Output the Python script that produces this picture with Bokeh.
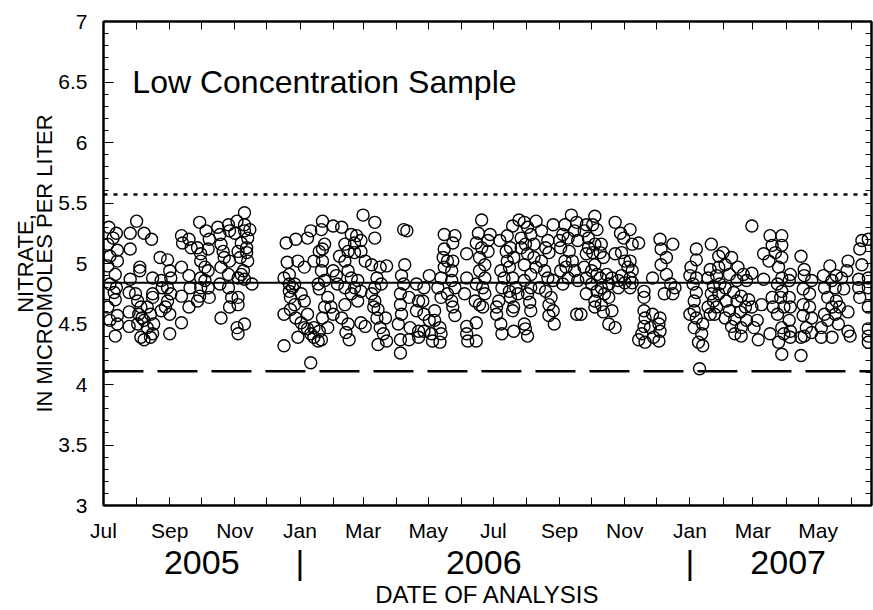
import datetime as dt
from bokeh.plotting import figure
from bokeh.models import FixedTicker, LinearAxis, Span, Label, Range1d
from bokeh.embed import file_html
from bokeh.resources import INLINE

FONT = "Liberation Sans"
START = dt.date(2005, 7, 1)

# ---- data: (days after 2005-07-01, nitrate in micromoles per liter) ----
jul_nov_2005 = [
    (5, 5.30), (12, 5.25), (9, 5.21), (4, 5.16), (13, 5.11), (6, 5.06), (13, 5.02), (4, 4.98), (11, 4.91),
    (6, 4.83), (12, 4.80), (10, 4.76), (11, 4.70), (4, 4.64), (13, 4.57), (6, 4.53), (13, 4.50), (11, 4.40),
    (25, 5.25), (25, 5.12), (31, 5.35), (38, 5.25), (45, 5.20), (25, 4.87), (24, 4.76), (24, 4.60), (24, 4.48),
    (34, 4.97), (34, 4.94), (30, 4.75), (32, 4.69), (35, 4.64), (33, 4.58), (36, 4.55), (32, 4.50), (38, 4.53),
    (35, 4.39), (38, 4.37), (44, 4.39), (46, 4.42), (41, 4.64), (46, 4.72), (46, 4.75), (47, 4.50), (46, 4.88),
    (44, 4.58), (41, 4.47),
    (53, 5.05), (54, 4.86), (55, 4.80), (60, 5.03), (60, 4.80), (62, 4.94), (63, 4.88), (60, 4.69), (62, 4.58),
    (58, 4.64), (54, 4.61), (62, 4.42), (63, 4.75), (73, 4.51), (73, 4.97), (73, 4.73), (80, 4.64), (80, 4.90),
    (81, 4.80),
    (73, 5.23), (74, 5.17), (80, 5.20), (82, 5.13), (88, 5.13), (90, 5.34), (96, 5.27), (99, 5.20), (98, 5.12),
    (91, 5.08), (91, 5.02), (95, 4.97), (98, 4.94), (91, 4.80), (90, 4.73), (88, 4.69), (95, 4.86), (99, 4.72),
    (98, 4.80), (91, 4.88),
    (107, 5.30), (109, 5.24), (110, 5.16), (112, 5.10), (117, 5.32), (118, 5.27), (113, 5.05), (118, 5.02),
    (110, 4.97), (117, 4.91), (109, 4.83), (117, 4.80), (120, 4.72), (118, 4.64), (110, 4.55), (126, 4.66),
    (126, 4.72), (125, 4.47), (126, 4.42), (132, 4.50), (125, 5.35), (132, 5.42), (132, 5.32), (132, 5.27),
    (135, 5.21), (134, 5.13), (135, 5.02), (131, 4.94), (126, 4.88), (132, 4.87), (139, 4.83), (137, 5.28),
    (129, 5.17), (134, 5.09), (126, 5.10), (128, 5.05), (123, 5.25), (129, 4.91),
]

dec2005_apr2006 = [
    (171, 5.17), (180, 5.20), (169, 4.88), (172, 5.01), (182, 5.02), (174, 4.91), (169, 4.58), (169, 4.32),
    (174, 4.77), (175, 4.72), (177, 4.80), (179, 4.66), (180, 4.55), (182, 4.39), (174, 4.83), (179, 4.83),
    (175, 4.62),
    (188, 4.97), (191, 5.21), (194, 5.27), (197, 5.02), (205, 5.35), (204, 5.28), (207, 5.16), (205, 5.12),
    (202, 5.10), (205, 5.02), (204, 4.94), (207, 4.86), (201, 4.83), (202, 4.79), (207, 4.64), (210, 4.72),
    (213, 4.64), (215, 4.58), (205, 4.55), (185, 4.75), (188, 4.69), (191, 4.58), (185, 4.51), (188, 4.47),
    (194, 4.42), (197, 4.39), (201, 4.36), (204, 4.37), (202, 4.44), (197, 4.47), (191, 4.46), (194, 4.18),
    (210, 4.47), (215, 4.94), (215, 5.31), (223, 5.30),
    (221, 5.06), (226, 5.16), (232, 5.24), (237, 5.23), (235, 5.17), (229, 5.10), (235, 5.09), (241, 5.19),
    (243, 5.40), (254, 5.34), (254, 5.21), (241, 5.10), (245, 5.02), (226, 5.02), (229, 4.94), (232, 4.88),
    (226, 4.80), (238, 4.86), (232, 4.75), (241, 4.77), (238, 4.69), (226, 4.66), (223, 4.55), (229, 4.50),
    (227, 4.43), (230, 4.37), (241, 4.51), (245, 4.48), (235, 4.80), (219, 4.83), (218, 4.90),
    (251, 4.99), (259, 4.97), (265, 4.98), (256, 4.88), (260, 4.83), (251, 4.75), (254, 4.69), (257, 4.62),
    (256, 4.55), (264, 4.55), (259, 4.47), (262, 4.42), (265, 4.36), (257, 4.33), (253, 4.64), (254, 4.80),
    (281, 5.28), (284, 5.27), (282, 4.99), (279, 4.90), (281, 4.83), (278, 4.75), (286, 4.72), (278, 4.66),
    (279, 4.58), (276, 4.50), (278, 4.37), (278, 4.26), (287, 4.47), (286, 4.37), (293, 4.83), (295, 4.69),
    (295, 4.44), (295, 4.39), (293, 4.61),
]

may_sep_2006 = [
    (305, 4.90), (300, 4.80), (299, 4.69), (300, 4.58), (305, 4.53), (300, 4.44), (307, 4.42), (310, 4.61),
    (308, 4.36), (315, 4.35), (315, 4.47), (316, 4.42), (316, 4.72), (313, 4.80), (316, 4.88), (319, 5.24),
    (329, 5.23), (327, 5.17), (319, 5.12), (318, 5.05), (322, 5.02), (327, 5.02), (319, 4.97), (326, 4.94),
    (326, 4.86), (322, 4.75), (329, 4.80), (326, 4.69), (327, 4.64), (329, 4.57), (310, 4.53),
    (340, 5.08), (340, 4.88), (338, 4.75), (340, 4.48), (349, 4.51), (340, 4.42), (341, 4.36), (349, 4.36),
    (354, 5.36), (351, 5.25), (349, 5.17), (354, 5.13), (360, 5.19), (352, 5.05), (357, 4.99), (352, 4.94),
    (357, 4.88), (349, 4.83), (355, 4.80), (348, 4.69), (352, 4.66), (355, 4.64), (357, 4.75), (360, 5.10),
    (362, 5.24),
    (368, 4.64), (368, 4.58), (370, 4.69), (372, 4.50), (373, 4.42), (384, 4.44), (371, 5.19), (378, 5.23),
    (383, 5.31), (389, 5.36), (381, 5.13), (377, 5.10), (378, 5.02), (384, 5.05), (380, 4.97), (372, 4.94),
    (375, 4.88), (383, 4.88), (373, 4.80), (380, 4.77), (386, 4.80), (381, 4.72), (388, 4.75), (384, 4.64),
    (383, 4.61), (391, 5.21), (391, 5.13),
    (394, 5.34), (405, 5.35), (397, 5.30), (400, 5.24), (395, 5.16), (403, 5.16), (397, 5.08), (403, 5.05),
    (394, 4.99), (405, 4.97), (400, 4.91), (394, 4.86), (400, 4.80), (397, 4.75), (399, 4.68), (400, 4.61),
    (394, 4.50), (395, 4.46), (397, 4.40), (410, 5.02), (413, 4.94), (414, 5.13), (416, 5.19), (417, 5.09),
    (416, 4.88), (421, 4.86), (414, 4.77), (419, 4.72), (417, 4.66), (421, 4.61), (417, 4.57), (422, 4.50),
    (421, 5.32), (410, 5.27), (408, 4.80),
    (432, 5.32), (438, 5.40), (443, 5.34), (430, 5.24), (435, 5.21), (441, 5.27), (444, 5.19), (428, 5.13),
    (436, 5.10), (432, 5.02), (439, 5.02), (428, 4.94), (435, 4.88), (441, 4.94), (430, 4.83), (444, 4.86),
    (443, 4.58), (427, 5.19), (433, 4.97),
]

sep2006_jan2007 = [
    (460, 5.39), (458, 5.32), (462, 5.28), (452, 5.32), (450, 5.27), (454, 5.21), (460, 5.16), (466, 5.16),
    (454, 5.13), (458, 5.09), (465, 5.09), (452, 5.08), (468, 5.05), (460, 4.99), (450, 4.97), (457, 4.94),
    (462, 4.91), (452, 4.88), (465, 4.88), (471, 4.91), (476, 4.88), (457, 4.83), (466, 4.80), (473, 4.83),
    (452, 4.75), (462, 4.77), (469, 4.75), (460, 4.69), (466, 4.66), (473, 4.72), (460, 4.64), (468, 4.60),
    (476, 4.61), (447, 4.58), (473, 4.50), (479, 4.47), (479, 5.34),
    (484, 5.25), (487, 5.21), (493, 5.28), (495, 5.16), (501, 5.17), (479, 5.08), (485, 5.09), (488, 5.02),
    (493, 5.02), (491, 4.97), (495, 4.94), (485, 4.90), (493, 4.88), (482, 4.86), (488, 4.84), (495, 4.84),
    (493, 4.80), (482, 4.80),
    (506, 4.77), (506, 4.72), (506, 4.61), (507, 4.55), (506, 4.48), (504, 4.42), (501, 4.37), (507, 4.35),
    (514, 4.58), (515, 4.39), (520, 4.36), (521, 4.55), (520, 4.50), (521, 4.44), (512, 4.47), (514, 4.88),
    (521, 5.20), (522, 5.12), (533, 5.16), (527, 5.05), (522, 4.99), (527, 4.91), (531, 4.83), (525, 4.75),
    (533, 4.75), (535, 4.80),
    (555, 5.12), (555, 5.03), (550, 4.97), (549, 4.90), (555, 4.88), (552, 4.83), (555, 4.76), (553, 4.69),
    (549, 4.58), (553, 4.61), (555, 4.55), (553, 4.47), (561, 4.50), (560, 4.42), (557, 4.35), (561, 4.32),
    (558, 4.13), (569, 5.16), (568, 4.95), (566, 4.88), (571, 4.81), (569, 4.75), (571, 4.69), (566, 4.64),
    (568, 4.58),
    (576, 5.06), (576, 4.97), (574, 4.90), (577, 4.83), (576, 4.75), (572, 4.58), (574, 4.64),
]

jan_jun_2007 = [
    (580, 5.09), (588, 5.05), (582, 4.99), (586, 4.91), (594, 4.97), (599, 4.91), (607, 4.92), (593, 4.86),
    (602, 4.86), (582, 4.80), (590, 4.76), (597, 4.73), (604, 4.70), (583, 4.69), (593, 4.69), (601, 4.64),
    (607, 4.64), (586, 4.61), (596, 4.60), (582, 4.55), (591, 4.54), (602, 4.53), (612, 4.53), (588, 4.48),
    (597, 4.47), (609, 4.47), (591, 4.42), (597, 4.40), (613, 4.37), (607, 5.31), (618, 4.87), (616, 4.66),
    (624, 5.23), (635, 5.23), (626, 5.15), (635, 5.15), (618, 5.08), (629, 5.09), (623, 5.02), (635, 5.05),
    (632, 4.97), (643, 4.91), (635, 4.88), (631, 4.83), (642, 4.86), (635, 4.77), (626, 4.72), (634, 4.72),
    (642, 4.72), (627, 4.64), (637, 4.64), (643, 4.64), (631, 4.58), (642, 4.53), (635, 4.47), (643, 4.44),
    (624, 4.42), (632, 4.35), (637, 4.42), (643, 4.39), (635, 4.25),
    (653, 5.06), (656, 4.95), (656, 4.90), (663, 4.86), (655, 4.79), (661, 4.75), (655, 4.66), (661, 4.64),
    (655, 4.57), (663, 4.55), (658, 4.47), (663, 4.43), (653, 4.39), (656, 4.40), (653, 4.24),
    (680, 4.98), (697, 5.02), (674, 4.90), (686, 4.90), (682, 4.86), (691, 4.88), (675, 4.80), (685, 4.80),
    (693, 4.79), (678, 4.72), (686, 4.69), (682, 4.64), (689, 4.64), (697, 4.60), (675, 4.58), (685, 4.58),
    (678, 4.53), (688, 4.50), (672, 4.47), (697, 4.44), (699, 4.40), (672, 4.39), (682, 4.39), (696, 4.94),
    (710, 5.19), (716, 5.20), (708, 5.12), (710, 4.99), (707, 4.87), (716, 4.88), (708, 4.72), (716, 4.80),
    (716, 4.64), (716, 4.46), (716, 4.40), (716, 4.35), (707, 4.80),
]

# reference lines (micromoles per liter)
mean_value = 4.84
upper_limit = 5.57
lower_limit = 4.11

# axis labels
month_names = ["Jul", "Aug", "Sep", "Oct", "Nov", "Dec", "Jan", "Feb", "Mar", "Apr", "May", "Jun"]
labelled_months = ["Jul", "Sep", "Nov", "Jan", "Mar", "May"]
y_tick_values = [3, 3.5, 4, 4.5, 5, 5.5, 6, 6.5, 7]
y_tick_labels = ["3", "3.5", "4", "4.5", "5", "5.5", "6", "6.5", "7"]
year_labels = ["2005", "|", "2006", "|", "2007"]
year_label_dates = ["2005-10-01", "2006-01-01", "2006-06-22", "2007-01-01", "2007-04-03"]
end_date = "2007-06-20"
title_text = "Low Concentration Sample"
y_title = ["NITRATE,", "IN MICROMOLES PER LITER"]
x_title = "DATE OF ANALYSIS"


def day_of(s):
    return (dt.date.fromisoformat(s) - START).days


points = jul_nov_2005 + dec2005_apr2006 + may_sep_2006 + sep2006_jan2007 + jan_jun_2007
xs = [d for d, v in points]
ys = [v for d, v in points]

# month ticks
month_days, labelled_days, labelled_text = [], [], []
yy, mm = 2005, 7
while True:
    d = (dt.date(yy, mm, 1) - START).days
    if d > day_of(end_date):
        break
    month_days.append(d)
    name = month_names[(mm - 7) % 12]
    if name in labelled_months:
        labelled_days.append(d)
        labelled_text.append(name)
    mm += 1
    if mm > 12:
        mm, yy = 1, yy + 1

y_minor = [round(3 + 0.1 * i, 1) for i in range(41)]

p = figure(width=873, height=610, x_range=Range1d(0, day_of(end_date)), y_range=Range1d(3, 7),
           output_backend="svg", toolbar_location=None,
           min_border_left=103, min_border_right=2, min_border_top=21, min_border_bottom=105)
p.grid.visible = False
p.outline_line_color = "black"
p.outline_line_width = 2
p.background_fill_color = "white"
p.border_fill_color = "white"

# bottom: month labels
xa = p.xaxis[0]
xa.ticker = FixedTicker(ticks=labelled_days, minor_ticks=month_days)
xa.major_label_overrides = {d: lab for d, lab in zip(labelled_days, labelled_text)}
xa.major_tick_in = 8
xa.major_tick_out = 0
xa.minor_tick_in = 8
xa.minor_tick_out = 0
xa.axis_line_width = 2
xa.axis_line_color = "black"
xa.major_tick_line_color = "black"
xa.minor_tick_line_color = "black"
xa.major_label_text_font = FONT
xa.major_label_text_font_size = "21px"
xa.major_label_text_color = "black"
xa.major_label_standoff = 13

# bottom: year labels and axis title
year_days = [day_of(s) for s in year_label_dates]
xa2 = LinearAxis(ticker=FixedTicker(ticks=year_days, minor_ticks=[]),
                 major_label_overrides={d: lab for d, lab in zip(year_days, year_labels)},
                 major_tick_in=0, major_tick_out=0, axis_line_color=None,
                 major_label_standoff=-2, major_label_text_font=FONT, major_label_text_font_size="34px",
                 major_label_text_color="black",
                 axis_label=x_title, axis_label_standoff=-3, axis_label_text_font=FONT,
                 axis_label_text_font_size="24px", axis_label_text_font_style="normal",
                 axis_label_text_color="black")
p.add_layout(xa2, "below")

# left: tick labels and inner title line
ya = p.yaxis[0]
ya.ticker = FixedTicker(ticks=y_tick_values, minor_ticks=y_minor)
ya.major_label_overrides = {v: lab for v, lab in zip(y_tick_values, y_tick_labels)}
ya.major_tick_in = 10
ya.major_tick_out = 0
ya.minor_tick_in = 5
ya.minor_tick_out = 0
ya.axis_line_width = 2
ya.axis_line_color = "black"
ya.major_tick_line_color = "black"
ya.minor_tick_line_color = "black"
ya.major_label_text_font = FONT
ya.major_label_text_font_size = "21px"
ya.major_label_text_color = "black"
ya.major_label_standoff = 16
ya.axis_label = y_title[1]
ya.axis_label_standoff = -2
ya.axis_label_text_font = FONT
ya.axis_label_text_font_size = "22px"
ya.axis_label_text_font_style = "normal"
ya.axis_label_text_color = "black"

ya2 = LinearAxis(ticker=FixedTicker(ticks=[], minor_ticks=[]), axis_line_color=None,
                 major_label_standoff=0, axis_label=y_title[0], axis_label_standoff=-8,
                 axis_label_text_font=FONT, axis_label_text_font_size="22px",
                 axis_label_text_font_style="normal", axis_label_text_color="black")
p.add_layout(ya2, "left")

# right and top: ticks only
ra = LinearAxis(ticker=FixedTicker(ticks=[], minor_ticks=y_minor), major_label_standoff=0,
                minor_tick_in=6, minor_tick_out=0, minor_tick_line_color="black",
                axis_line_width=2, axis_line_color="black")
p.add_layout(ra, "right")

ta = LinearAxis(ticker=FixedTicker(ticks=[], minor_ticks=month_days), major_label_standoff=0,
                minor_tick_in=8, minor_tick_out=0, minor_tick_line_color="black",
                axis_line_width=2, axis_line_color="black")
p.add_layout(ta, "above")

p.scatter(xs, ys, marker="circle", size=12, fill_color=None, line_color="black", line_width=1.4)

p.add_layout(Span(location=upper_limit, dimension="width", line_color="black", line_width=2.5, line_dash="4 6"))
p.add_layout(Span(location=mean_value, dimension="width", line_color="black", line_width=2))
p.add_layout(Span(location=lower_limit, dimension="width", line_color="black", line_width=2.5, line_dash="40 14"))

p.add_layout(Label(x=27, y=6.496, text=title_text, text_font=FONT,
                   text_font_size="32px", text_color="black", text_baseline="alphabetic"))

open("out.html", "w").write(file_html(p, INLINE))
